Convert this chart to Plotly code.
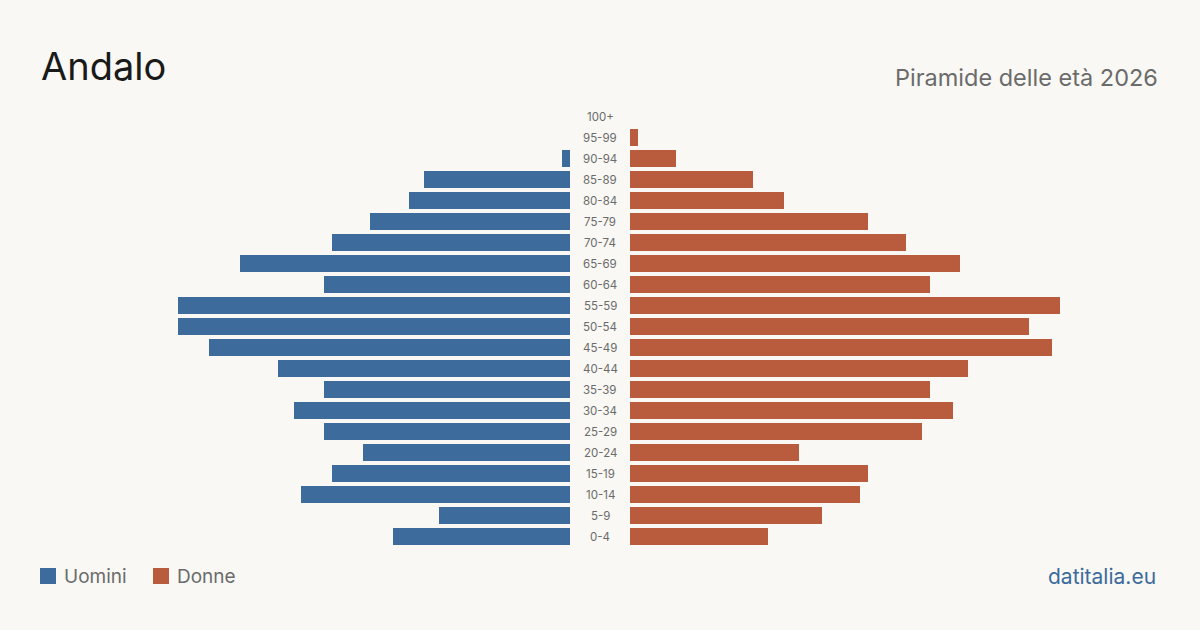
import plotly.graph_objects as go

age_groups = ["0-4", "5-9", "10-14", "15-19", "20-24", "25-29", "30-34", "35-39",
              "40-44", "45-49", "50-54", "55-59", "60-64", "65-69", "70-74", "75-79",
              "80-84", "85-89", "90-94", "95-99", "100+"]
uomini = [23, 17, 35, 31, 27, 32, 36, 32, 38, 47, 51, 51, 32, 43, 31, 26, 21, 19, 1, 0, 0]
donne = [18, 25, 30, 31, 22, 38, 42, 39, 44, 55, 52, 56, 39, 43, 36, 31, 20, 16, 6, 1, 0]

BLUE = "#3c6b9c"
ORANGE = "#b95c3d"
BG = "#f9f8f4"
GREY = "#6b6b6b"
FONT = "Inter, 'Open Sans', sans-serif"

W, H = 1200, 630
px_per_unit = 7.68
half_range = 570 / px_per_unit
row_px = 21
y_bottom_px = 536.5
y_lo = -(H - y_bottom_px) / row_px
y_hi = (len(age_groups) - 1) + (y_bottom_px - 20 * row_px) / row_px

idx = list(range(len(age_groups)))

fig = go.Figure()
fig.add_trace(go.Bar(x=uomini, y=idx, orientation="h", marker=dict(color=BLUE, line=dict(width=0)),
                     width=17 / row_px, xaxis="x", yaxis="y", name="Uomini", hoverinfo="skip"))
fig.add_trace(go.Bar(x=donne, y=idx, orientation="h", marker=dict(color=ORANGE, line=dict(width=0)),
                     width=17 / row_px, xaxis="x2", yaxis="y", name="Donne", hoverinfo="skip"))

annotations = []
for i, lab in enumerate(age_groups):
    annotations.append(dict(x=0.5, xref="paper", y=i, yref="y", text=lab, showarrow=False,
                            xanchor="center", yanchor="middle",
                            font=dict(family=FONT, size=11.5, color=GREY)))

annotations += [
    dict(x=39 / W, xref="paper", y=1 - 66 / H, yref="paper", text="Andalo", showarrow=False,
         xanchor="left", yanchor="middle", font=dict(family=FONT, size=38, color="#1a1a1a")),
    dict(x=1160 / W, xref="paper", y=1 - 77 / H, yref="paper", text="Piramide delle età 2026",
         showarrow=False, xanchor="right", yanchor="middle",
         font=dict(family=FONT, size=23.5, color=GREY)),
    dict(x=62 / W, xref="paper", y=1 - 576 / H, yref="paper", text="Uomini", showarrow=False,
         xanchor="left", yanchor="middle", font=dict(family=FONT, size=19, color=GREY)),
    dict(x=175 / W, xref="paper", y=1 - 576 / H, yref="paper", text="Donne", showarrow=False,
         xanchor="left", yanchor="middle", font=dict(family=FONT, size=19, color=GREY)),
    dict(x=1158 / W, xref="paper", y=1 - 576 / H, yref="paper", text="datitalia.eu", showarrow=False,
         xanchor="right", yanchor="middle", font=dict(family=FONT, size=21, color=BLUE)),
]

shapes = [
    dict(type="rect", xref="paper", yref="paper", x0=40 / W, x1=56 / W, y0=1 - 584 / H, y1=1 - 568 / H,
         fillcolor=BLUE, line=dict(width=0)),
    dict(type="rect", xref="paper", yref="paper", x0=153 / W, x1=169 / W, y0=1 - 584 / H, y1=1 - 568 / H,
         fillcolor=ORANGE, line=dict(width=0)),
]

axis_common = dict(showgrid=False, zeroline=False, showticklabels=False, showline=False, ticks="",
                   fixedrange=True)
fig.update_layout(
    width=W, height=H, autosize=False,
    margin=dict(l=0, r=0, t=0, b=0, pad=0),
    paper_bgcolor=BG, plot_bgcolor=BG,
    showlegend=False,
    bargap=0,
    xaxis=dict(domain=[0, 570 / W], range=[half_range, 0], anchor="y", **axis_common),
    xaxis2=dict(domain=[630 / W, 1], range=[0, half_range], anchor="y", **axis_common),
    yaxis=dict(range=[y_lo, y_hi], anchor="x", **axis_common),
    annotations=annotations,
    shapes=shapes,
)

fig.write_html("out.html", config={"displayModeBar": False})
